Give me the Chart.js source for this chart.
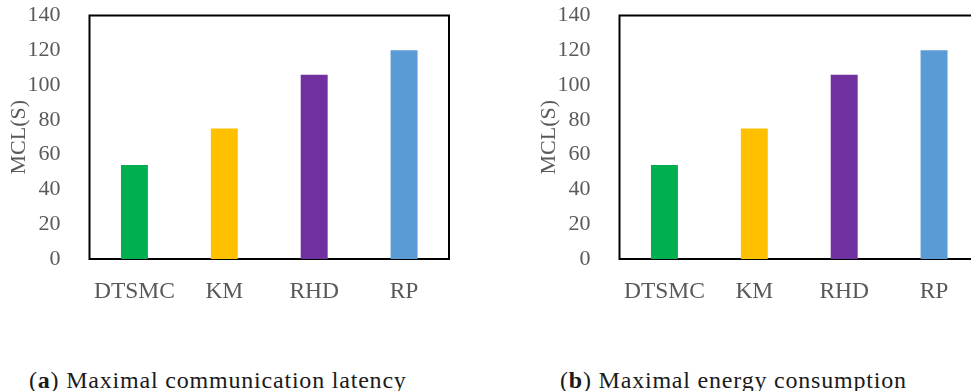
<!DOCTYPE html>
<html>
<head>
<meta charset="utf-8">
<script src="https://cdn.jsdelivr.net/npm/chart.js@4"></script>
<style>
  html, body { margin: 0; padding: 0; background: #fff; }
  body { width: 971px; height: 391px; overflow: hidden; position: relative; }
  .box { position: absolute; top: 0; width: 480px; height: 320px; }
  .cap { position: absolute; top: 366px; font-family: "Liberation Serif", serif; font-size: 24px; letter-spacing: 0.8px; color: #1a1a1a; white-space: nowrap; line-height: 28px; }
</style>
</head>
<body>
<div class="box" style="left:0px"><canvas id="chartA"></canvas></div>
<div class="box" style="left:530px"><canvas id="chartB"></canvas></div>
<div class="cap" style="left:29px">(<b>a</b>) Maximal communication latency</div>
<div class="cap" style="left:560px">(<b>b</b>) Maximal energy consumption</div>
<script>
// dati
const methods = ['DTSMC', 'KM', 'RHD', 'RP'];
const latencyValues = [54, 75, 106, 120];
const energyValues = [54, 75, 106, 120];
const yTicks = [0, 20, 40, 60, 80, 100, 120, 140];
const barColors = ['#00B050', '#FFC000', '#7030A0', '#5B9BD5'];
const yTitle = 'MCL(S)';

const textColor = '#595959';
const serif = 'Liberation Serif';

// cornice nera attorno all'area del grafico
const frame = {
    id: 'frame',
    beforeDatasetsDraw(chart) {
        const a = chart.chartArea;
        const ctx = chart.ctx;
        ctx.save();
        ctx.strokeStyle = '#000';
        ctx.lineWidth = 2;
        ctx.strokeRect(a.left, a.top, a.right - a.left, a.bottom - a.top);
        ctx.restore();
    }
};

function makeChart(id, values) {
    return new Chart(document.getElementById(id), {
        type: 'bar',
        data: {
            labels: methods,
            datasets: [{
                data: values,
                backgroundColor: barColors,
                barPercentage: 0.3,
                categoryPercentage: 1
            }]
        },
        options: {
            responsive: false,
            animation: false,
            layout: { padding: { top: 15.5, right: 31, bottom: 0, left: 0 } },
            plugins: { legend: { display: false }, tooltip: { enabled: false } },
            scales: {
                x: {
                    grid: { display: false },
                    border: { display: false },
                    ticks: { color: textColor, font: { family: serif, size: 23.5 }, padding: 11, maxRotation: 0 },
                    afterFit(scale) {
                        scale.height = 61;
                        scale.paddingLeft = 0;
                        scale.paddingRight = 0;
                    }
                },
                y: {
                    min: 0,
                    max: 140,
                    grid: { display: false },
                    border: { display: false },
                    afterBuildTicks(scale) { scale.ticks = yTicks.map(v => ({ value: v })); },
                    ticks: { color: textColor, font: { family: serif, size: 22 }, padding: 21 },
                    title: { display: true, text: yTitle, color: textColor, font: { family: serif, size: 22 }, padding: { top: 6, bottom: 0 } },
                    afterFit(scale) {
                        scale.width = 89.5;
                        scale.paddingTop = 0;
                        scale.paddingBottom = 0;
                    }
                }
            }
        },
        plugins: [frame]
    });
}

const canvasA = document.getElementById('chartA');
const canvasB = document.getElementById('chartB');
canvasA.width = 480; canvasA.height = 320;
canvasB.width = 480; canvasB.height = 320;

makeChart('chartA', latencyValues);
makeChart('chartB', energyValues);
</script>
</body>
</html>
